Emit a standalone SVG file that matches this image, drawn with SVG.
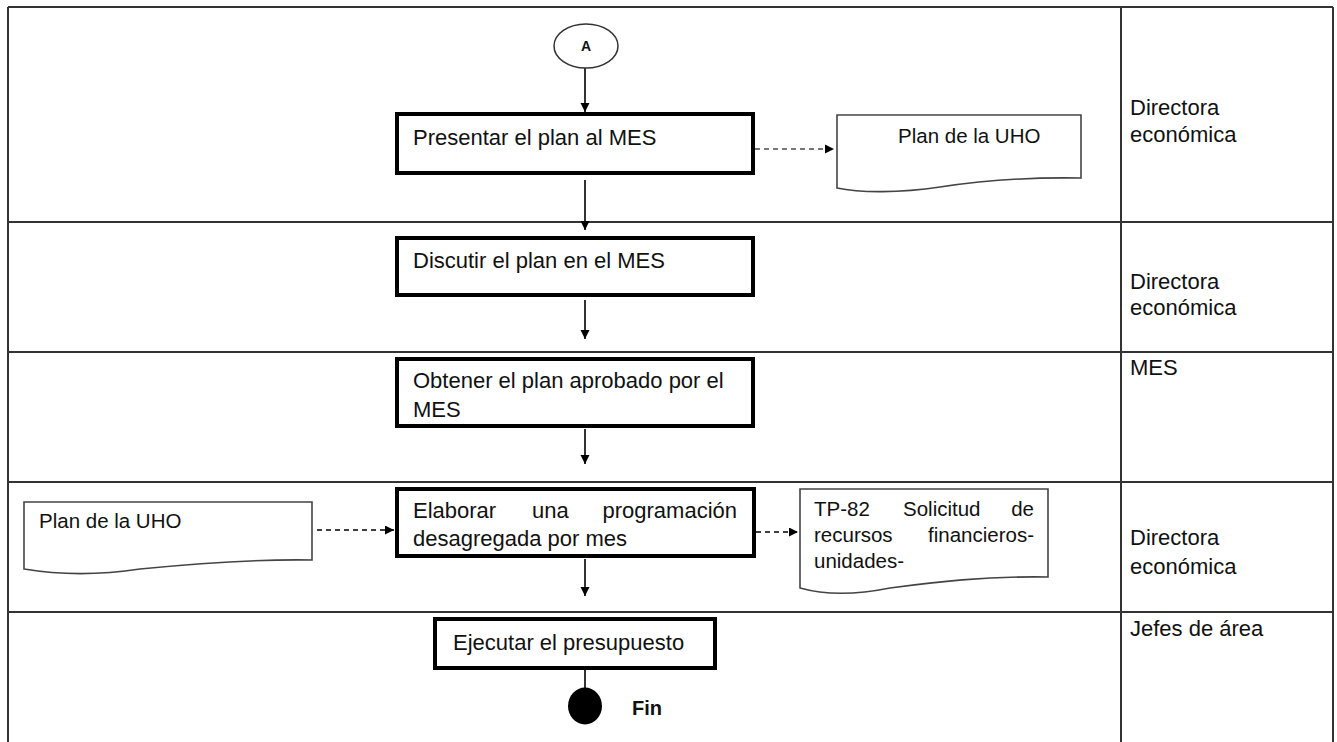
<svg xmlns="http://www.w3.org/2000/svg" width="1337" height="742" viewBox="0 0 1337 742">
<style>
  .grid { stroke: #333; stroke-width: 2; fill: none; }
  .box { fill: #fff; stroke: #000; stroke-width: 4; }
  .doc { fill: #fff; stroke: #444; stroke-width: 1.6; }
  .t { font-family: "Liberation Sans", Arial, sans-serif; font-size: 22px; fill: #111; }
  .td { font-family: "Liberation Sans", Arial, sans-serif; font-size: 20.5px; fill: #111; }
  .flow { stroke: #000; stroke-width: 1.6; fill: none; }
  .dash { stroke: #000; stroke-width: 1.6; fill: none; stroke-dasharray: 5 4; }
  .dashg { stroke: #777; stroke-width: 2; fill: none; stroke-dasharray: 5 4; }
</style>
<defs>
  <marker id="ah" markerUnits="userSpaceOnUse" markerWidth="10" markerHeight="10" refX="9" refY="4.5" orient="auto">
    <path d="M0,0 L9,4.5 L0,9 Z" fill="#000"/>
  </marker>
</defs>
<rect width="1337" height="742" fill="#fff"/>
<g id="table">
  <line class="grid" x1="8" y1="7" x2="1333" y2="7"/>
  <line class="grid" x1="8" y1="7" x2="8" y2="742"/>
  <line class="grid" x1="1333" y1="7" x2="1333" y2="742"/>
  <line class="grid" x1="1121" y1="7" x2="1121" y2="742"/>
  <line class="grid" x1="8" y1="222" x2="1333" y2="222"/>
  <line class="grid" x1="8" y1="352" x2="1333" y2="352"/>
  <line class="grid" x1="8" y1="482" x2="1333" y2="482"/>
  <line class="grid" x1="8" y1="612" x2="1333" y2="612"/>
</g>
<g id="lanes">
  <text class="t" x="1130" y="115">Directora</text>
  <text class="t" x="1130" y="142">económica</text>
  <text class="t" x="1130" y="289">Directora</text>
  <text class="t" x="1130" y="315">económica</text>
  <text class="t" x="1130" y="375">MES</text>
  <text class="t" x="1130" y="545">Directora</text>
  <text class="t" x="1130" y="574">económica</text>
  <text class="t" x="1130" y="636">Jefes de área</text>
</g>
<g id="connectors">
  <line class="flow" x1="585" y1="68" x2="585" y2="112" marker-end="url(#ah)"/>
  <line class="flow" x1="585" y1="180" x2="585" y2="230" marker-end="url(#ah)"/>
  <line class="flow" x1="585" y1="300" x2="585" y2="339" marker-end="url(#ah)"/>
  <line class="flow" x1="585" y1="429" x2="585" y2="464" marker-end="url(#ah)"/>
  <line class="flow" x1="585" y1="559" x2="585" y2="596" marker-end="url(#ah)"/>
  <line class="flow" x1="585" y1="668" x2="585" y2="690"/>
  <line class="dashg" x1="755" y1="149" x2="825" y2="149"/>
  <path d="M825,144.5 L834,149 L825,153.5 Z" fill="#000"/>
  <line class="dash" x1="317" y1="530" x2="394" y2="530" marker-end="url(#ah)"/>
  <line class="dash" x1="756" y1="532" x2="798" y2="532" marker-end="url(#ah)"/>
</g>
<g id="start">
  <ellipse cx="586" cy="46" rx="32" ry="22" fill="#fff" stroke="#333" stroke-width="1.5"/>
  <text x="586" y="51" text-anchor="middle" font-family="Liberation Sans, Arial, sans-serif" font-size="14" font-weight="bold" fill="#111">A</text>
</g>
<g id="n1">
  <rect class="box" x="397" y="114" width="356" height="59"/>
  <text class="t" x="413" y="145">Presentar el plan al MES</text>
</g>
<g id="doc1">
  <path class="doc" d="M837,115 H1081 V178 C1030,177 980,181 940,187 C900,193 860,193 837,188 Z"/>
  <text class="td" x="898" y="143">Plan de la UHO</text>
</g>
<g id="n2">
  <rect class="box" x="397" y="238" width="356" height="57"/>
  <text class="t" x="413" y="268">Discutir el plan en el MES</text>
</g>
<g id="n3">
  <rect class="box" x="397" y="359" width="356" height="67"/>
  <text class="t" x="413" y="388">Obtener el plan aprobado por el</text>
  <text class="t" x="413" y="417">MES</text>
</g>
<g id="doc2">
  <path class="doc" d="M24,502 H312 V560 C250,559 190,564 140,569 C100,575 60,575 24,569 Z"/>
  <text class="td" x="39" y="528">Plan de la UHO</text>
</g>
<g id="n4">
  <rect class="box" x="397" y="489" width="357" height="67"/>
  <text class="t" x="413" y="518">Elaborar</text>
  <text class="t" x="532" y="518">una</text>
  <text class="t" x="737" y="518" text-anchor="end">programación</text>
  <text class="t" x="413" y="546">desagregada por mes</text>
</g>
<g id="doc3">
  <path class="doc" d="M800,489 H1048 V577 C985,576 935,582 890,588 C855,595 825,595 800,588 Z"/>
  <text class="td" x="814" y="516">TP-82</text>
  <text class="td" x="903" y="516">Solicitud</text>
  <text class="td" x="1034" y="516" text-anchor="end">de</text>
  <text class="td" x="814" y="542">recursos</text>
  <text class="td" x="1034" y="542" text-anchor="end">financieros-</text>
  <text class="td" x="814" y="568">unidades-</text>
</g>
<g id="n5">
  <rect class="box" x="435" y="619" width="280" height="49"/>
  <text class="t" x="453" y="650">Ejecutar el presupuesto</text>
</g>
<g id="end">
  <ellipse cx="585" cy="706" rx="17" ry="18.5" fill="#000"/>
  <text x="632" y="715" font-family="Liberation Sans, Arial, sans-serif" font-size="20" font-weight="bold" fill="#111">Fin</text>
</g>
</svg>
